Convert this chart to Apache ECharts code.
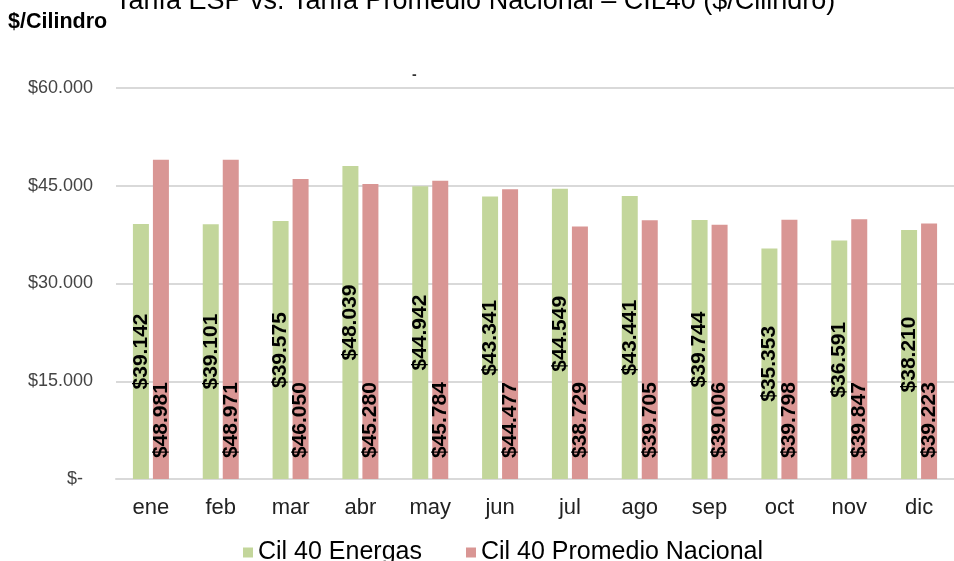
<!DOCTYPE html>
<html>
<head>
<meta charset="utf-8">
<script src="https://cdn.jsdelivr.net/npm/echarts@6/dist/echarts.min.js"></script>
<style>html,body{margin:0;padding:0;background:#fff;}#c{width:954px;height:561px;}</style>
</head>
<body>
<div id="c"></div>
<script>
const categories = ['ene','feb','mar','abr','may','jun','jul','ago','sep','oct','nov','dic'];
const energas = [39142,39101,39575,48039,44942,43341,44549,43441,39744,35353,36591,38210];
const promedio = [48981,48971,46050,45280,45784,44477,38729,39705,39006,39798,39847,39223];
const seriesNames = ['Cil 40 Energas','Cil 40 Promedio Nacional'];
const titleText = 'Tarifa ESP vs. Tarifa Promedio Nacional \u2013 CIL40 ($/Cilindro)';
const unitText = '$/Cilindro';

const FONT = '"Liberation Sans", Arial, sans-serif';
function fmt(v){
  if (v === 0) return '$-\u00a0\u00a0';
  return '$' + String(Math.round(v)).replace(/\B(?=(\d{3})+(?!\d))/g, '.');
}
const chart = echarts.init(document.getElementById('c'), null, {renderer:'canvas'});
chart.setOption({
  animation:false,
  backgroundColor:'#ffffff',
  textStyle:{fontFamily:FONT},
  graphic:[
    {type:'text', left:115, top:-12, style:{text:titleText, fontSize:27, fill:'#000', fontFamily:FONT}},
    {type:'text', left:8, top:11, style:{text:unitText, fontSize:21.5, fontWeight:'bold', fill:'#000', fontFamily:FONT}},
    {type:'text', left:412, top:68, style:{text:'-', fontSize:14, fontWeight:'bold', fill:'#333', fontFamily:FONT}}
  ],
  legend:{
    left:238, top:535,
    itemWidth:10, itemHeight:10, itemGap:44,
    icon:'rect',
    textStyle:{fontSize:25, color:'#000', fontFamily:FONT},
    data:seriesNames
  },
  grid:{left:116, right:-10, top:88, bottom:82, containLabel:false},
  xAxis:{
    type:'category', data:categories,
    axisLine:{lineStyle:{color:'#d9d9d9', width:2}},
    axisTick:{show:false},
    axisLabel:{fontSize:22, color:'#222', margin:18, fontFamily:FONT}
  },
  yAxis:{
    type:'value', min:0, max:60000, interval:15000,
    axisLine:{show:false}, axisTick:{show:false},
    splitLine:{lineStyle:{color:'#d9d9d9', width:2}},
    axisLabel:{fontSize:18, color:'#444', margin:23, formatter:fmt, fontFamily:FONT}
  },
  series:[
    {
      name:seriesNames[0], type:'bar', data:energas, barWidth:16, barGap:'25%',
      itemStyle:{color:'#c3d69b'},
      label:{show:true, position:'inside', rotate:90, fontSize:21, fontWeight:'bold', color:'#000', fontFamily:FONT, formatter:p=>fmt(p.value)}
    },
    {
      name:seriesNames[1], type:'bar', data:promedio, barWidth:16, barGap:'25%',
      itemStyle:{color:'#d99694'},
      label:{show:true, position:'insideBottom', distance:21, rotate:90, align:'left', verticalAlign:'middle', fontSize:21, fontWeight:'bold', color:'#000', fontFamily:FONT, formatter:p=>fmt(p.value)}
    }
  ]
});
</script>
</body>
</html>
